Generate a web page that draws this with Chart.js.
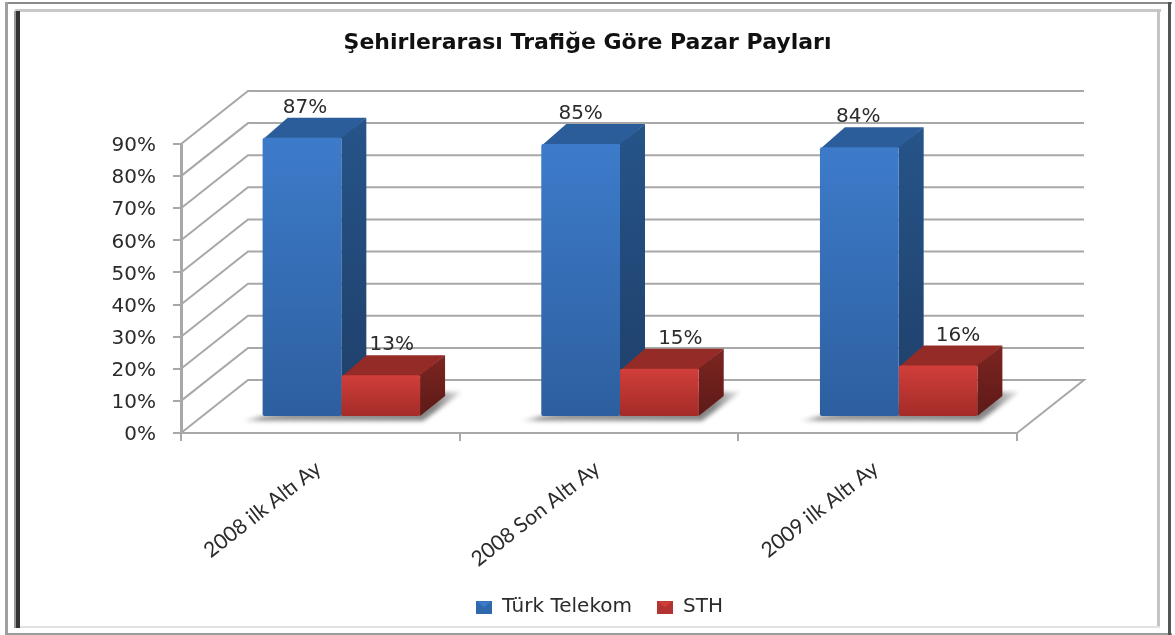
<!DOCTYPE html>
<html>
<head>
<meta charset="utf-8">
<title>Pazar Payları</title>
<script src="https://cdn.jsdelivr.net/npm/chart.js@4/dist/chart.umd.min.js"></script>
<style>
  html, body { margin: 0; padding: 0; background: #fff; }
  canvas { display: block; }
</style>
</head>
<body>
<canvas id="shareChart" width="1175" height="635"></canvas>
<script>
const categories = ["2008 ilk Altı Ay", "2008 Son Altı Ay", "2009 ilk Altı Ay"];
const turkTelekom = [87, 85, 84];
const sth = [13, 15, 16];
const yTicks = [0, 10, 20, 30, 40, 50, 60, 70, 80, 90];

// 3D look: wall depth, offset of the bars' front plane, bar depth
const WALL = { dx: 67, dy: 53 };
const FRONT = { dx: 21, dy: 16 };
const BAR = { dx: 25, dy: 20 };
// data labels were hand placed in the original, shift from the centre of each bar
const labelShift = [[3, 0, -1], [11, 21, 20]];

const FONT = "'DejaVu Sans', sans-serif";
const GRID = "#a8a8a8";

const blue = { front: ["#3d7bca", "#2d5f9f"], top: "#2b5d9a", side: ["#265489", "#1f3f69"], icon: "#2f68ad" };
const red = { front: ["#d03e3a", "#a32b28"], top: "#952b27", side: ["#7c2521", "#5e1a17"], icon: "#b23330" };

function frontFill(colors) {
  return function (ctx) {
    const y = ctx.chart.scales.y;
    if (!ctx.parsed || !y) return colors[0];
    const g = ctx.chart.ctx.createLinearGradient(0, y.getPixelForValue(ctx.parsed.y), 0, y.getPixelForValue(0));
    g.addColorStop(0, colors[0]);
    g.addColorStop(1, colors[1]);
    return g;
  };
}

// small envelope shaped legend key
function legendIcon(c) {
  const cv = document.createElement("canvas");
  cv.width = 16;
  cv.height = 13;
  const x = cv.getContext("2d");
  x.fillStyle = c.icon;
  x.fillRect(0, 0, 16, 13);
  x.fillStyle = c.front[0];
  x.beginPath();
  x.moveTo(1, 1);
  x.lineTo(15, 1);
  x.lineTo(8, 7);
  x.closePath();
  x.fill();
  return cv;
}

const framePlugin = {
  id: "frame",
  beforeDraw(chart) {
    const c = chart.ctx;
    function rect(col, x, y, w, h) {
      c.fillStyle = col;
      c.fillRect(x, y, w, h);
    }
    c.save();
    rect("#fff", 0, 0, 1175, 635);
    // outer frame
    rect("#8a8a8a", 5, 2, 1167, 2);
    rect("#a0a0a0", 5, 2, 3, 632);
    rect("#9c9c9c", 5, 633, 1167, 2);
    rect("#555", 1168, 2, 3, 633);
    // inner frame
    rect("#c8c8c8", 15, 9, 1146, 3);
    rect("#c4c4c4", 1157, 9, 3, 619);
    rect("#e2e2e2", 15, 626, 1145, 2);
    rect("#333", 16, 11, 4, 617);
    rect("#999", 14, 11, 2, 617);
    c.restore();
  }
};

const box3dPlugin = {
  id: "box3d",
  beforeDatasetsDraw(chart) {
    const c = chart.ctx;
    const x = chart.scales.x;
    const y = chart.scales.y;
    const left = x.left;
    const right = x.right;

    // walls and floor
    c.save();
    c.strokeStyle = GRID;
    c.lineWidth = 2;
    yTicks.forEach(function (v) {
      const py = y.getPixelForValue(v);
      c.beginPath();
      c.moveTo(left, py);
      c.lineTo(left + WALL.dx, py - WALL.dy);
      c.lineTo(right + WALL.dx, py - WALL.dy);
      if (v === 0) c.lineTo(right, py);
      c.stroke();
    });

    c.translate(FRONT.dx, -FRONT.dy);

    // floor shadow under each pair
    const m0 = chart.getDatasetMeta(0).data;
    const m1 = chart.getDatasetMeta(1).data;
    m0.forEach(function (el, i) {
      const a = el.x - el.width / 2;
      const b = m1[i].x + m1[i].width / 2;
      const base = el.base;
      const g = c.createLinearGradient(a - 24, 0, b + 50, 0);
      g.addColorStop(0, "rgba(120,120,120,0)");
      g.addColorStop(0.1, "rgba(130,130,130,.8)");
      g.addColorStop(0.85, "rgba(120,120,120,.9)");
      g.addColorStop(1, "rgba(150,150,150,0)");
      c.save();
      c.filter = "blur(2px)";
      c.fillStyle = g;
      c.beginPath();
      c.moveTo(a - 22, base + 5);
      c.lineTo(b + 3, base + 5);
      c.lineTo(b + 42, base - 24);
      c.lineTo(b, base - 24);
      c.lineTo(a, base);
      c.closePath();
      c.fill();
      c.restore();
    });

    // top and side faces, the fronts are the library's own bars
    [blue, red].forEach(function (col, d) {
      chart.getDatasetMeta(d).data.forEach(function (el) {
        const l = el.x - el.width / 2;
        const r = el.x + el.width / 2;
        const t = el.y;
        const b = el.base;
        c.fillStyle = col.top;
        c.beginPath();
        c.moveTo(l + 1, t + 1);
        c.lineTo(l + BAR.dx, t - BAR.dy);
        c.lineTo(r + BAR.dx, t - BAR.dy);
        c.lineTo(r, t + 1);
        c.closePath();
        c.fill();
        const g = c.createLinearGradient(0, t - BAR.dy, 0, b);
        g.addColorStop(0, col.side[0]);
        g.addColorStop(1, col.side[1]);
        c.fillStyle = g;
        c.beginPath();
        c.moveTo(r, t);
        c.lineTo(r + BAR.dx, t - BAR.dy);
        c.lineTo(r + BAR.dx, b - BAR.dy);
        c.lineTo(r, b);
        c.closePath();
        c.fill();
      });
    });
    // stays translated for the bars, afterDatasetsDraw restores
  },
  afterDatasetsDraw(chart) {
    const c = chart.ctx;
    c.restore();
    c.save();
    c.fillStyle = "#2b2b2b";
    c.font = "20px " + FONT;
    c.textAlign = "center";
    c.textBaseline = "alphabetic";
    chart.data.datasets.forEach(function (ds, d) {
      chart.getDatasetMeta(d).data.forEach(function (el, i) {
        const px = el.x + FRONT.dx + labelShift[d][i];
        const py = el.y - FRONT.dy - 25;
        c.fillText(ds.data[i] + "%", px, py);
      });
    });
    c.restore();
  },
  afterLayout(chart) {
    // title and legend are centred on the page in the original, not on the plot
    chart.titleBlock.left += 79;
    chart.titleBlock.right += 79;
    chart.legend.left += 91;
    chart.legend.right += 91;
    chart.legend.top -= 8;
  }
};

new Chart(document.getElementById("shareChart"), {
  type: "bar",
  data: {
    labels: categories,
    datasets: [
      { label: "Türk Telekom", data: turkTelekom, backgroundColor: frontFill(blue.front), clip: false },
      { label: "STH", data: sth, backgroundColor: frontFill(red.front), clip: false }
    ]
  },
  options: {
    responsive: false,
    animation: false,
    layout: { padding: { left: 0, right: 158, top: 0, bottom: 0 } },
    datasets: {
      bar: { categoryPercentage: 0.565, barPercentage: 1, borderRadius: 2, borderSkipped: false }
    },
    scales: {
      x: {
        grid: { offset: true, drawOnChartArea: false, color: GRID, lineWidth: 2, tickLength: 8 },
        border: { color: GRID, width: 2 },
        ticks: {
          maxRotation: 38,
          minRotation: 38,
          color: "#2b2b2b",
          font: { family: "Lato, sans-serif", size: 21 },
          padding: 15,
          labelOffset: -2
        },
        afterFit(scale) { scale.height = 147; }
      },
      y: {
        min: 0,
        max: 90,
        afterBuildTicks(scale) { scale.ticks = yTicks.map(function (v) { return { value: v }; }); },
        grid: { drawOnChartArea: false, color: GRID, lineWidth: 2, tickLength: 8 },
        border: { color: GRID, width: 3 },
        ticks: {
          color: "#2b2b2b",
          font: { family: FONT, size: 20 },
          padding: 17,
          labelOffset: 2,
          callback: function (v) { return v + "%"; }
        },
        afterFit(scale) { scale.width = 181; }
      }
    },
    plugins: {
      title: {
        display: true,
        text: "Şehirlerarası Trafiğe Göre Pazar Payları",
        color: "#111",
        font: { family: FONT, size: 22, weight: "bold" },
        padding: { top: 30, bottom: 87.6 }
      },
      legend: {
        position: "bottom",
        labels: {
          usePointStyle: true,
          pointStyleWidth: 16,
          padding: 25,
          color: "#2b2b2b",
          font: { family: FONT, size: 20 },
          generateLabels() {
            return [
              { text: "Türk Telekom", pointStyle: legendIcon(blue), datasetIndex: 0, fontColor: "#2b2b2b" },
              { text: "STH", pointStyle: legendIcon(red), datasetIndex: 1, fontColor: "#2b2b2b" }
            ];
          }
        }
      },
      tooltip: { enabled: false }
    }
  },
  plugins: [framePlugin, box3dPlugin]
});
</script>
</body>
</html>
